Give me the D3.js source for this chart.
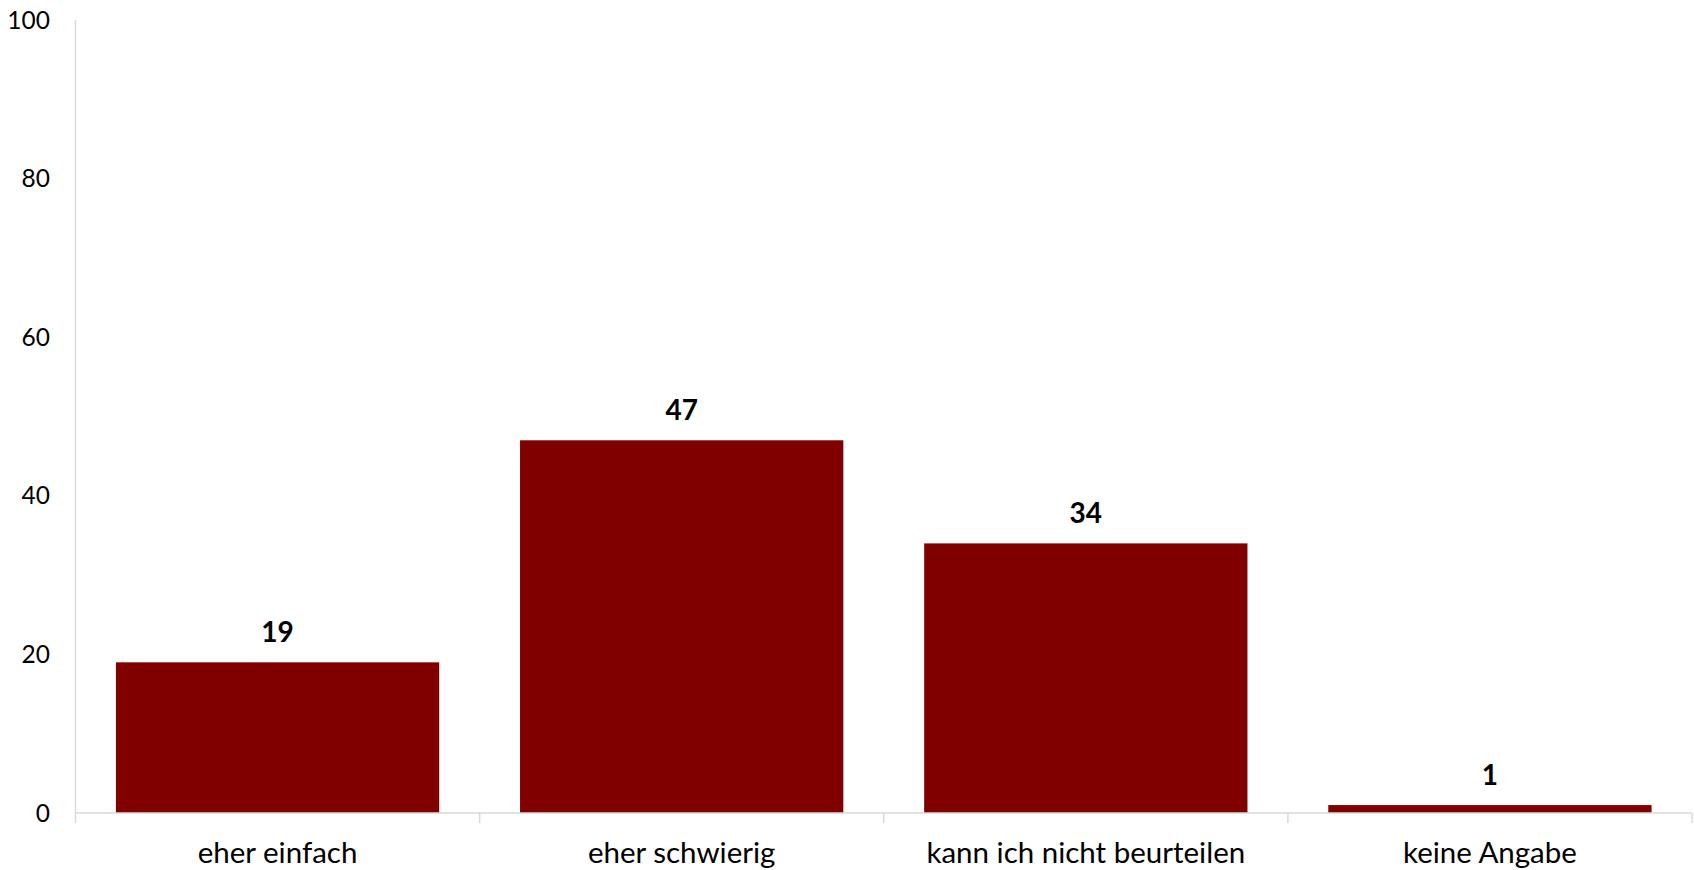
<!DOCTYPE html>
<html><head><meta charset="utf-8">
<script src="https://cdn.jsdelivr.net/npm/d3@7"></script>
<style>html,body{margin:0;padding:0;background:#fff;overflow:hidden}</style>
</head><body>
<svg id="chart" width="1694" height="870"></svg>
<script>
const categories = ["eher einfach", "eher schwierig", "kann ich nicht beurteilen", "keine Angabe"];
const values = [19, 47, 34, 1];
const yTicks = [0, 20, 40, 60, 80, 100];

(function () {
const svg = d3.select("#chart");
const mLeft = 75.5, mRight = 1692, mTop = 20, mBottom = 813;
const font = "Lato, 'Open Sans', sans-serif";

const x = d3.scaleBand().domain(categories).range([mLeft, mRight]).paddingInner(0.2).paddingOuter(0.1);
const y = d3.scaleLinear().domain([0, 100]).range([mBottom, mTop]);

// y axis line
svg.append("line").attr("x1", mLeft).attr("x2", mLeft).attr("y1", mTop).attr("y2", mBottom)
  .attr("stroke", "#d9d9d9").attr("stroke-width", 1.5);
// y tick labels
svg.selectAll("text.yt").data(yTicks).join("text").attr("class", "yt")
  .attr("x", 50).attr("y", d => y(d)).attr("dy", "0.35em").attr("text-anchor", "end")
  .attr("font-family", font).attr("font-size", 24.5).attr("fill", "#000").text(d => d);

// bars
svg.selectAll("rect.bar").data(values).join("rect").attr("class", "bar")
  .attr("x", (d, i) => x(categories[i])).attr("width", x.bandwidth())
  .attr("y", d => y(d)).attr("height", d => y(0) - y(d)).attr("fill", "#800000");

// x axis
svg.append("line").attr("x1", mLeft).attr("x2", mRight).attr("y1", mBottom).attr("y2", mBottom)
  .attr("stroke", "#d9d9d9").attr("stroke-width", 1.5);
const bounds = d3.range(categories.length + 1).map(i => mLeft + i * (mRight - mLeft) / categories.length);
svg.selectAll("line.xt").data(bounds).join("line").attr("class", "xt")
  .attr("x1", d => d).attr("x2", d => d).attr("y1", mBottom).attr("y2", mBottom + 10)
  .attr("stroke", "#d9d9d9").attr("stroke-width", 1.5);

// category labels
svg.selectAll("text.xl").data(categories).join("text").attr("class", "xl")
  .attr("x", d => x(d) + x.bandwidth() / 2).attr("y", 863).attr("text-anchor", "middle")
  .attr("font-family", font).attr("font-size", 29.5).attr("fill", "#000").text(d => d);

// value labels
svg.selectAll("text.vl").data(values).join("text").attr("class", "vl")
  .attr("x", (d, i) => x(categories[i]) + x.bandwidth() / 2).attr("y", d => y(d) - 20)
  .attr("text-anchor", "middle").attr("font-family", font).attr("font-weight", "bold")
  .attr("font-size", 28).attr("fill", "#000").text(d => d);
})();
</script>
</body></html>
